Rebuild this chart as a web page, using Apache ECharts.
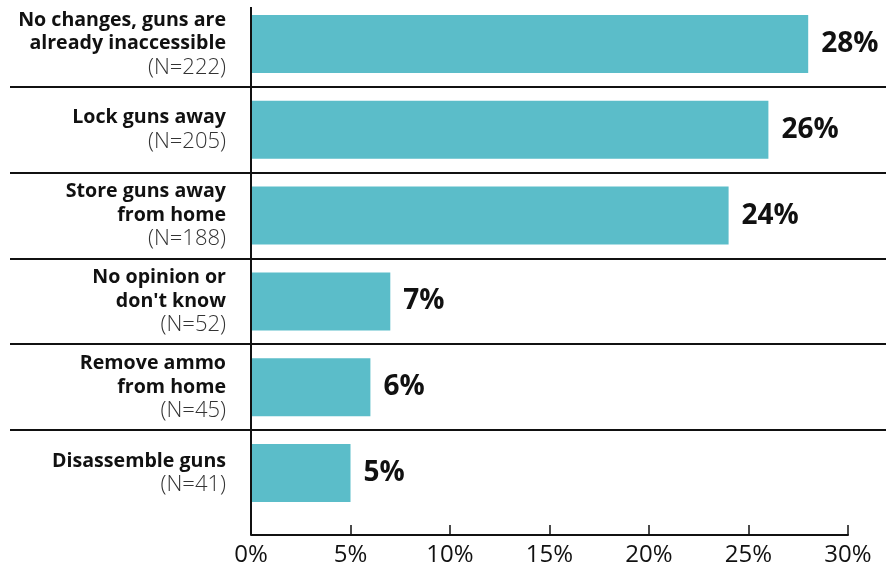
<!DOCTYPE html>
<html>
<head>
<meta charset="utf-8">
<style>
  html, body { margin: 0; padding: 0; background: #fff; }
  #chart { width: 893px; height: 567px; }
</style>
<script src="https://cdn.jsdelivr.net/npm/echarts@6/dist/echarts.min.js"></script>
</head>
<body>
<div id="chart"></div>
<script>
// Response categories (line breaks as set in the labels)
const categories = [
  'No changes, guns are\nalready inaccessible',
  'Lock guns away',
  'Store guns away\nfrom home',
  "No opinion or\ndon't know",
  'Remove ammo\nfrom home',
  'Disassemble guns'
];
// Respondents per category
const sampleSizes = [222, 205, 188, 52, 45, 41];
// Share of respondents, percent
const shares = [28, 26, 24, 7, 6, 5];
// Percent axis ticks
const axisMin = 0;
const axisMax = 30;
const axisStep = 5;

const INK = '#111111';
const BAR = '#5BBDC9';
const FONT = '"Open Sans", "Liberation Sans", sans-serif';
const AXIS_OFFSET = 19;

const chart = echarts.init(document.getElementById('chart'), null, { renderer: 'canvas' });

function categoryLabel(value, index) {
  const lines = value.split('\n').map(l => '{b|' + l + '}');
  lines.push('{n|(N=' + sampleSizes[index] + ')}');
  return lines.join('\n');
}

const option = {
  animation: false,
  backgroundColor: '#ffffff',
  grid: { left: 251, right: 45, top: 1, bottom: 49, containLabel: false },
  xAxis: {
    type: 'value',
    min: axisMin,
    max: axisMax,
    interval: axisStep,
    offset: AXIS_OFFSET,
    axisLine: { show: true, lineStyle: { color: INK, width: 2 } },
    axisTick: { show: true, inside: true, length: 10, lineStyle: { color: INK, width: 1.5 } },
    axisLabel: {
      formatter: '{value}%',
      fontFamily: FONT,
      fontSize: 24,
      color: INK,
      margin: 8
    },
    splitLine: { show: false }
  },
  yAxis: {
    type: 'category',
    inverse: true,
    data: categories,
    axisLine: { show: false },
    axisTick: { show: false },
    splitLine: { show: false },
    axisLabel: {
      margin: 25,
      align: 'right',
      formatter: categoryLabel,
      rich: {
        b: { fontFamily: FONT, fontWeight: 700, fontSize: 19.6, color: INK, lineHeight: 23.5, align: 'right' },
        n: { fontFamily: FONT, fontWeight: 300, fontSize: 22, color: '#333333', lineHeight: 24, align: 'right' }
      }
    }
  },
  series: [{
    type: 'bar',
    data: shares,
    barWidth: 58,
    itemStyle: { color: BAR },
    label: {
      show: true,
      position: 'right',
      distance: 13,
      formatter: '{c}%',
      fontFamily: FONT,
      fontWeight: 700,
      fontSize: 28,
      color: INK
    }
  }]
};

chart.setOption(option);

// Separator rules between categories and the vertical baseline
function drawRules() {
  const centers = categories.map((c, i) => chart.convertToPixel({ yAxisIndex: 0 }, i));
  const band = centers[1] - centers[0];
  const x0 = chart.convertToPixel({ xAxisIndex: 0 }, axisMin);
  const elements = [];
  for (let i = 1; i < centers.length; i++) {
    const y = Math.round((centers[i - 1] + centers[i]) / 2);
    elements.push({
      type: 'line',
      shape: { x1: 10, y1: y, x2: 886, y2: y },
      style: { stroke: INK, lineWidth: 2 },
      z: 5
    });
  }
  const top = centers[0] - band / 2 + 6;
  const bottom = centers[centers.length - 1] + band / 2 + AXIS_OFFSET;
  elements.push({
    type: 'line',
    shape: { x1: x0, y1: top, x2: x0, y2: bottom },
    style: { stroke: INK, lineWidth: 2 },
    z: 6
  });
  chart.setOption({ graphic: elements });
}
drawRules();
</script>
</body>
</html>
